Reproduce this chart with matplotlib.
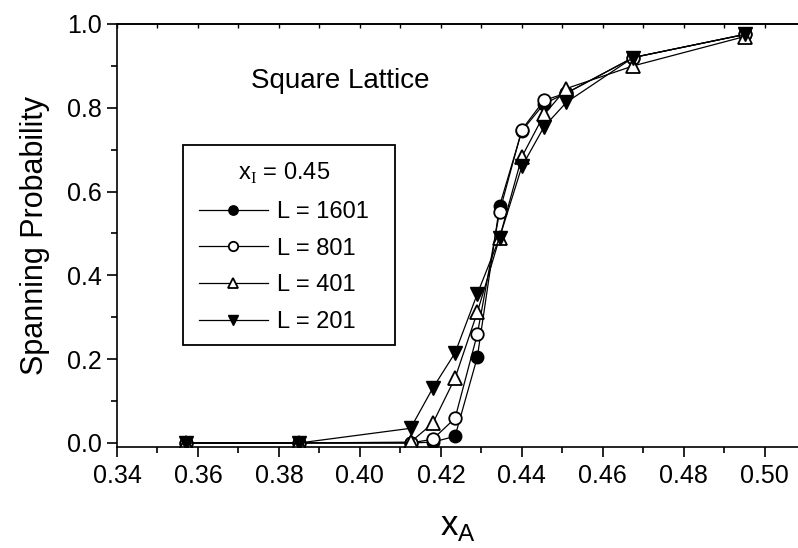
import matplotlib
matplotlib.use('Agg')
import matplotlib.pyplot as plt
from matplotlib.ticker import MultipleLocator
from matplotlib.patches import Rectangle

plt.rcParams['font.family'] = 'Liberation Sans'
plt.rcParams['mathtext.fontset'] = 'custom'
plt.rcParams['mathtext.rm'] = 'Liberation Serif'
plt.rcParams['mathtext.sf'] = 'Liberation Sans'

# концентрация x_A
x_a = [0.357, 0.385, 0.4125, 0.418, 0.4235, 0.429, 0.4345, 0.440, 0.4455, 0.451, 0.4675, 0.495]

# вероятность перколяции для разных размеров решётки
p_1601 = [0.0, 0.0, 0.0, 0.002, 0.016, 0.205, 0.566, 0.745, 0.81, 0.835, 0.92, 0.975]
p_801 = [0.0, 0.0, 0.0, 0.009, 0.059, 0.26, 0.552, 0.748, 0.818, 0.835, 0.92, 0.975]
p_401 = [0.0, 0.0, 0.002, 0.047, 0.155, 0.312, 0.49, 0.683, 0.784, 0.846, 0.90, 0.97]
p_201 = [0.0, 0.0, 0.035, 0.131, 0.215, 0.356, 0.49, 0.66, 0.755, 0.813, 0.92, 0.975]

labels = ['L = 1601', 'L = 801', 'L = 401', 'L = 201']

W, H = 798, 548
fig = plt.figure(figsize=(W / 100, H / 100), dpi=100)
ax = fig.add_axes([117 / W, 1 - 447 / H, 1 - 117 / W, (447 - 24) / H])

ax.plot(x_a, p_1601, '-o', color='black', mfc='black', mec='black', ms=9, lw=0.9, label=labels[0])
ax.plot(x_a, p_801, '-o', color='black', mfc='white', mec='black', ms=9, mew=1.3, lw=0.9, label=labels[1])
ax.plot(x_a, p_401, '-^', color='black', mfc='white', mec='black', ms=10, mew=1.3, lw=0.9, label=labels[2])
ax.plot(x_a, p_201, '-v', color='black', mfc='black', mec='black', ms=10, lw=0.9, label=labels[3])

ax.set_xlim(0.34, 0.5082)
ax.set_ylim(-0.0096, 1.0)
ax.xaxis.set_major_locator(MultipleLocator(0.02))
ax.xaxis.set_minor_locator(MultipleLocator(0.01))
ax.yaxis.set_major_locator(MultipleLocator(0.2))
ax.yaxis.set_minor_locator(MultipleLocator(0.1))
ax.xaxis.set_major_formatter(plt.FormatStrFormatter('%.2f'))
ax.yaxis.set_major_formatter(plt.FormatStrFormatter('%.1f'))

ax.tick_params(which='major', direction='out', length=7, width=1.2, labelsize=18, pad=4)
ax.tick_params(which='minor', direction='out', length=4, width=1.2)
ax.tick_params(axis='x', which='major', pad=5)
ax.spines['right'].set_visible(False)
for s in ['left', 'bottom', 'top']:
    ax.spines[s].set_linewidth(1.2)

# засечки сверху (внутрь)
top = ax.secondary_xaxis('top')
top.set_xticks([0.34 + 0.01 * i for i in range(17)])
top.tick_params(direction='in', length=3, width=1.0, labeltop=False)
top.spines['top'].set_linewidth(1.2)

ax.set_xlabel(r'x$_\mathsf{A}$', fontsize=25, labelpad=16)
ax.set_ylabel('Spanning Probability', fontsize=22, labelpad=12)

fig.text(251 / W, 1 - 88 / H, 'Square Lattice', fontsize=20, va='baseline', ha='left')

# рамка легенды
fig.patches.append(Rectangle((183 / W, 1 - 345 / H), (395 - 183) / W, (345 - 145) / H,
                             transform=fig.transFigure, fill=False, edgecolor='black', lw=1.3))

leg = ax.legend(loc='upper left', bbox_to_anchor=(183 / W, 1 - 145 / H),
                bbox_transform=fig.transFigure, borderaxespad=0,
                title=r'x$_\mathrm{I}$ = 0.45', title_fontsize=17, fontsize=17,
                markerscale=0.75, handlelength=2.9, handletextpad=0.4,
                labelspacing=0.62, frameon=False, borderpad=0.68)

fig.savefig('out.png', dpi=100)
